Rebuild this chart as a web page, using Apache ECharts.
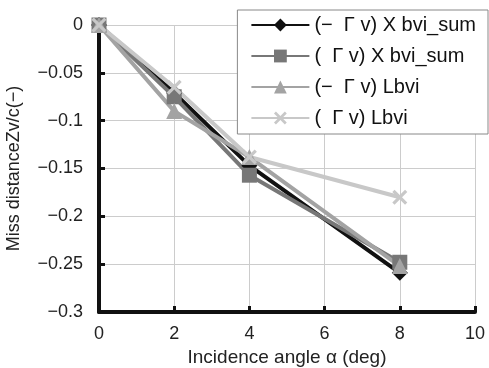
<!DOCTYPE html>
<html>
<head>
<meta charset="utf-8">
<script src="https://cdn.jsdelivr.net/npm/echarts@6/dist/echarts.min.js"></script>
<style>
html, body { margin: 0; padding: 0; background: #fff; }
#chart { width: 489px; height: 368px; }
</style>
</head>
<body>
<div id="chart"></div>
<script>
// incidence angle (deg)
var angles = [0, 2, 4, 8];
var seriesNames = ['(−  Γ v) X bvi_sum', '(  Γ v) X bvi_sum', '(−  Γ v) Lbvi', '(  Γ v) Lbvi'];
// miss distance Zv/c
var negXbvi = [0, -0.071, -0.147, -0.259];
var posXbvi = [0, -0.075, -0.157, -0.248];
var negLbvi = [0, -0.090, -0.138, -0.252];
var posLbvi = [0, -0.065, -0.138, -0.180];
var xTicks = [0, 2, 4, 6, 8, 10];

var crossPath = 'path://M0,1.5L1.5,0L5,3.5L8.5,0L10,1.5L6.5,5L10,8.5L8.5,10L5,6.5L1.5,10L0,8.5L3.5,5Z';

function pairs(vals) {
	var out = [];
	for (var i = 0; i < angles.length; i++) {
		out.push([angles[i], vals[i]]);
	}
	return out;
}

function mkSeries(name, vals, color, symbol, size) {
	return {
		name: name,
		type: 'line',
		data: pairs(vals),
		symbol: symbol,
		symbolSize: size,
		lineStyle: { color: color, width: 4 },
		itemStyle: { color: color },
		z: 2
	};
}

var myChart = echarts.init(document.getElementById('chart'));
var option = {
	animation: false,
	textStyle: { fontFamily: 'Liberation Sans, Arial, sans-serif' },
	grid: { left: 99, right: 14, top: 25, bottom: 56, containLabel: false, outerBoundsMode: 'none' },
	legend: {
		orient: 'vertical',
		right: 1,
		top: 10,
		backgroundColor: '#fff',
		borderColor: '#888',
		borderWidth: 1,
		padding: [5, 12, 6, 13],
		itemWidth: 58,
		itemHeight: 16,
		itemGap: 11,
		textStyle: { fontSize: 20, color: '#111', fontFamily: 'Liberation Sans, Arial, sans-serif' },
		data: seriesNames
	},
	xAxis: {
		type: 'value',
		min: 0,
		max: 10,
		interval: 2,
		data: xTicks,
		name: 'Incidence angle α (deg)',
		nameLocation: 'middle',
		nameGap: 33,
		nameTextStyle: { fontSize: 19, color: '#222' },
		axisLine: { onZero: false, lineStyle: { color: '#111', width: 4 } },
		axisTick: { inside: true, length: 6, lineStyle: { color: '#111', width: 3 } },
		axisLabel: { fontSize: 18, color: '#222', margin: 13 },
		splitLine: { show: true, lineStyle: { color: '#ccc', width: 1 } }
	},
	yAxis: {
		type: 'value',
		min: -0.3,
		max: 0,
		interval: 0.05,
		name: 'Miss distanceZv/c(−)',
		nameLocation: 'middle',
		nameGap: 76,
		nameTextStyle: { fontSize: 18, color: '#222' },
		axisLine: { onZero: false, lineStyle: { color: '#111', width: 4 } },
		axisTick: { inside: true, length: 6, lineStyle: { color: '#111', width: 3 } },
		axisLabel: {
			fontSize: 18,
			color: '#222',
			margin: 16,
			formatter: function (v) {
				return String(Math.round(v * 100) / 100).replace('-', '−');
			}
		},
		splitLine: { show: true, lineStyle: { color: '#ccc', width: 1 } }
	},
	series: [
		mkSeries(seriesNames[0], negXbvi, '#111111', 'diamond', 16),
		mkSeries(seriesNames[1], posXbvi, '#777777', 'rect', 15),
		mkSeries(seriesNames[2], negLbvi, '#a3a3a3', 'triangle', 16),
		mkSeries(seriesNames[3], posLbvi, '#c8c8c8', crossPath, 15)
	]
};
myChart.setOption(option);
</script>
</body>
</html>
